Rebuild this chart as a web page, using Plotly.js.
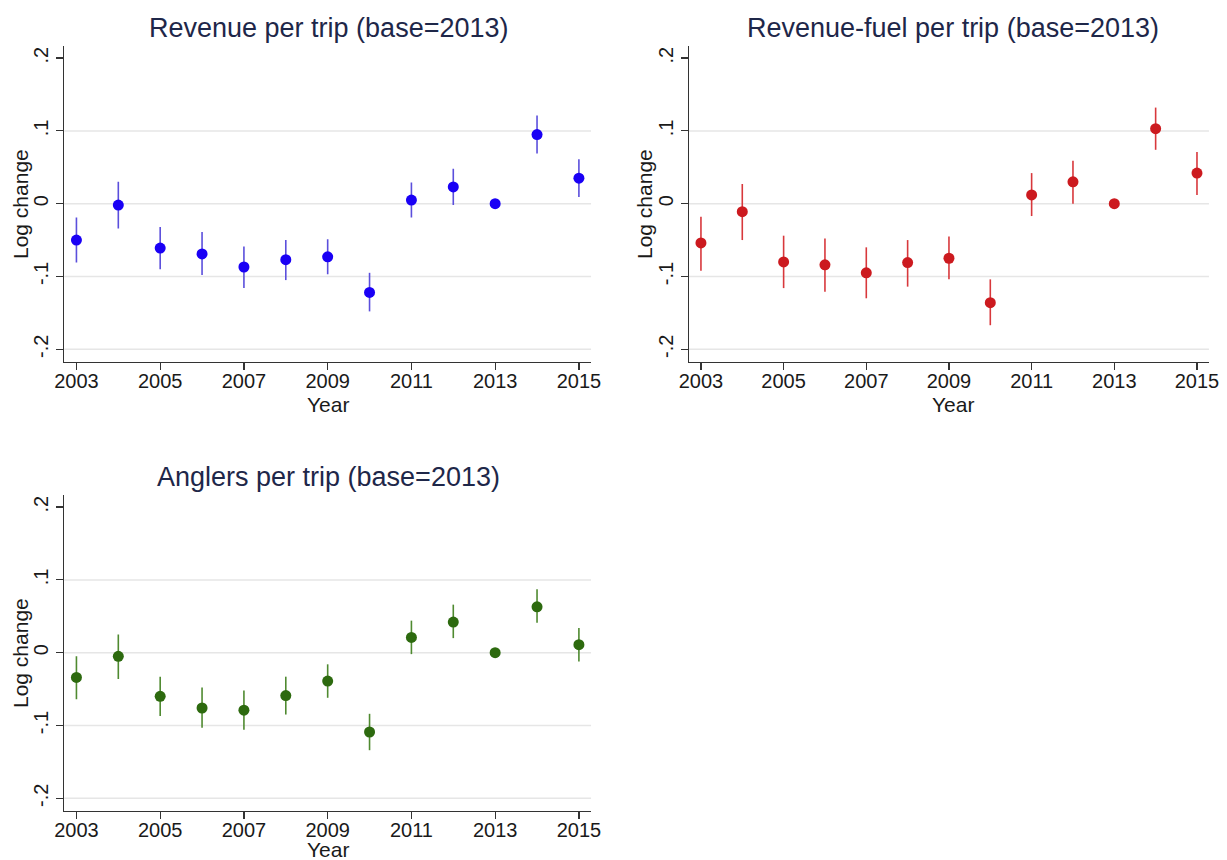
<!DOCTYPE html>
<html>
<head>
<meta charset="utf-8">
<script src="https://cdn.plot.ly/plotly-3.0.1.min.js"></script>
<style>
  html, body { margin: 0; padding: 0; background: #fff; }
  #chart { width: 1227px; height: 860px; }
</style>
</head>
<body>
<div id="chart"></div>
<script>
// ---- data ----
const years = [2003, 2004, 2005, 2006, 2007, 2008, 2009, 2010, 2011, 2012, 2013, 2014, 2015];

const revenueEst   = [-0.050, -0.002, -0.061, -0.069, -0.087, -0.077, -0.073, -0.122, 0.005, 0.023, 0.000, 0.095, 0.035];
const revenueLow   = [-0.081, -0.034, -0.090, -0.098, -0.116, -0.105, -0.097, -0.148, -0.019, -0.002, 0.000, 0.069, 0.009];
const revenueHigh  = [-0.019, 0.030, -0.032, -0.039, -0.059, -0.050, -0.049, -0.095, 0.029, 0.048, 0.000, 0.121, 0.061];

const fuelEst      = [-0.054, -0.011, -0.080, -0.084, -0.095, -0.081, -0.075, -0.136, 0.012, 0.030, 0.000, 0.103, 0.042];
const fuelLow      = [-0.092, -0.050, -0.116, -0.121, -0.130, -0.114, -0.104, -0.167, -0.017, 0.000, 0.000, 0.074, 0.012];
const fuelHigh     = [-0.018, 0.027, -0.044, -0.048, -0.060, -0.050, -0.045, -0.104, 0.042, 0.059, 0.000, 0.132, 0.071];

const anglersEst   = [-0.034, -0.005, -0.060, -0.076, -0.079, -0.059, -0.039, -0.109, 0.021, 0.042, 0.000, 0.063, 0.011];
const anglersLow   = [-0.064, -0.036, -0.087, -0.103, -0.106, -0.085, -0.062, -0.134, -0.002, 0.020, 0.000, 0.041, -0.012];
const anglersHigh  = [-0.005, 0.025, -0.033, -0.048, -0.052, -0.033, -0.016, -0.084, 0.044, 0.066, 0.000, 0.087, 0.034];

const panelTitles = ["Revenue per trip (base=2013)", "Revenue-fuel per trip (base=2013)", "Anglers per trip (base=2013)"];
const xTickVals = [2003, 2005, 2007, 2009, 2011, 2013, 2015];
const xTickText = ["2003", "2005", "2007", "2009", "2011", "2013", "2015"];
const yTickVals = [-0.2, -0.1, 0, 0.1, 0.2];
const yTickText = ["-.2", "-.1", "0", ".1", ".2"];
const gridVals  = [-0.2, -0.1, 0, 0.1];
const yTitle = "Log change";
const xTitle = "Year";

// ---- styling ----
const FONT = "'Liberation Sans', Arial, Helvetica, sans-serif";
const TITLE_COLOR = "#1e2749";
const TEXT_COLOR = "#1a1a1a";

function makeTrace(est, lo, hi, markerColor, barColor, xa, ya) {
  return {
    type: 'scatter', mode: 'markers',
    x: years, y: est, xaxis: xa, yaxis: ya,
    marker: { color: markerColor, size: 11, line: { width: 0 } },
    error_y: {
      type: 'data', symmetric: false,
      array: hi.map((h, i) => h - est[i]),
      arrayminus: est.map((e, i) => e - lo[i]),
      color: barColor, thickness: 1.6, width: 0
    },
    showlegend: false, hoverinfo: 'x+y'
  };
}

const traces = [
  makeTrace(revenueEst, revenueLow, revenueHigh, '#1a00f5', '#5b4fdc', 'x', 'y'),
  makeTrace(fuelEst, fuelLow, fuelHigh, '#cc1a1f', '#d8383c', 'x2', 'y2'),
  makeTrace(anglersEst, anglersLow, anglersHigh, '#2d6a0f', '#4f8a30', 'x3', 'y3')
];

function xAxis(domain, anchor) {
  return {
    domain: domain, anchor: anchor, range: [2002.71, 2015.29],
    tickmode: 'array', tickvals: xTickVals, ticktext: xTickText,
    ticks: 'outside', ticklen: 7, tickwidth: 1.2, tickcolor: '#333',
    ticklabelstandoff: -6,
    showline: true, linecolor: '#333', linewidth: 1.2,
    showgrid: false, zeroline: false,
    tickfont: { family: FONT, size: 20, color: TEXT_COLOR }
  };
}
function yAxis(domain, anchor) {
  return {
    domain: domain, anchor: anchor, range: [-0.2175, 0.2166],
    tickmode: 'array', tickvals: yTickVals, ticktext: yTickText, tickangle: -90,
    ticks: 'outside', ticklen: 7, tickwidth: 1.2, tickcolor: '#333',
    showline: true, linecolor: '#333', linewidth: 1.2,
    showgrid: false, zeroline: false,
    tickfont: { family: FONT, size: 20, color: TEXT_COLOR }
  };
}

const xd1 = [0.0524, 0.4817], xd2 = [0.5615, 0.9853];
const yd1 = [0.5791, 0.9465], yd3 = [0.0570, 0.4244];

const shapes = [];
[['x', 'y'], ['x2', 'y2'], ['x3', 'y3']].forEach(([xa, ya]) => {
  gridVals.forEach(v => shapes.push({
    type: 'line', layer: 'below', xref: xa + ' domain', yref: ya,
    x0: 0, x1: 1, y0: v, y1: v,
    line: { color: '#e6e6e6', width: 1.5 }
  }));
});

function ann(text, x, y, size, color, angle, yanchor) {
  return { text: text, xref: 'paper', yref: 'paper', x: x, y: y,
    xanchor: 'center', yanchor: yanchor || 'middle', showarrow: false, textangle: angle || 0,
    font: { family: FONT, size: size, color: color } };
}

const annotations = [
  ann(panelTitles[0], 328 / 1227, 1 - 28 / 860, 27, TITLE_COLOR),
  ann(panelTitles[1], 953 / 1227, 1 - 28 / 860, 27, TITLE_COLOR),
  ann(panelTitles[2], 328 / 1227, 1 - 477 / 860, 27, TITLE_COLOR),
  ann(yTitle, 20 / 1227, 1 - 204 / 860, 21, TEXT_COLOR, -90),
  ann(yTitle, 644 / 1227, 1 - 204 / 860, 21, TEXT_COLOR, -90),
  ann(yTitle, 20 / 1227, 1 - 653 / 860, 21, TEXT_COLOR, -90),
  ann(xTitle, 328 / 1227, 1 - 405 / 860, 21, TEXT_COLOR),
  ann(xTitle, 953 / 1227, 1 - 405 / 860, 21, TEXT_COLOR),
  ann(xTitle, 328 / 1227, 1 - 849 / 860, 21, TEXT_COLOR)
];

const layout = {
  width: 1227, height: 860,
  margin: { l: 0, r: 0, t: 0, b: 0 },
  paper_bgcolor: '#ffffff', plot_bgcolor: '#ffffff',
  font: { family: FONT, color: TEXT_COLOR },
  xaxis: xAxis(xd1, 'y'), yaxis: yAxis(yd1, 'x'),
  xaxis2: xAxis(xd2, 'y2'), yaxis2: yAxis(yd1, 'x2'),
  xaxis3: xAxis(xd1, 'y3'), yaxis3: yAxis(yd3, 'x3'),
  shapes: shapes, annotations: annotations,
  showlegend: false
};

Plotly.newPlot('chart', traces, layout, { displayModeBar: false, staticPlot: true });
</script>
</body>
</html>
